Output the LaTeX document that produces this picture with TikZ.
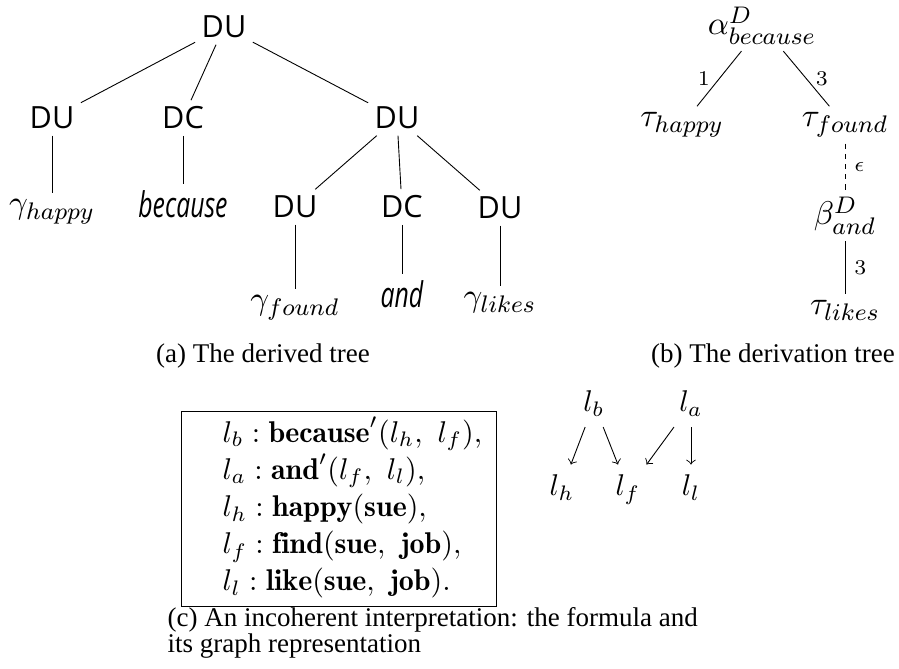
\documentclass[tikz,border=0pt]{standalone}
\usepackage{fontspec}
\usepackage{graphicx}
\newfontfamily\treesans{Open Sans}
\newfontfamily\capserif{Liberation Serif}
\begin{document}
\begin{tikzpicture}[x=0.3333pt,y=-0.3333pt,
  cat/.style={font=\treesans\fontsize{10.2}{12}\selectfont, inner sep=2pt},
  lex/.style={font=\fontsize{11}{13}\selectfont, inner sep=2pt, anchor=base},
  word/.style={font=\treesans\itshape\fontsize{11.8}{13}\selectfont, inner sep=2pt, anchor=base},
  der/.style={font=\fontsize{11}{13}\selectfont, inner sep=2pt, anchor=base},
  lbl/.style={font=\fontsize{7}{8}\selectfont, inner sep=3pt},
  gnode/.style={font=\fontsize{10}{12}\selectfont, anchor=base},
  captxt/.style={font=\capserif\fontsize{9}{10}\selectfont, anchor=base, inner sep=0pt},
  conn/.style={line width=0.3pt},
  dconn/.style={line width=0.3pt, dash pattern=on 1.7pt off 1.7pt}
]
\useasboundingbox (0,0) rectangle (899,669);

% (a) derived tree
\node[cat] (r)  at (224,27)  {DU};
\node[cat] (u1) at (52,118)  {DU};
\node[cat] (c1) at (183,118) {DC};
\node[cat] (u2) at (397,118) {DU};
\node[lex] (g1) at (52,214)  {$\gamma_{happy}$};
\node[word] (w1) at (183,218) {\scalebox{0.7}[1]{because}};
\node[cat] (u3) at (295,207) {DU};
\node[cat] (c2) at (402,207) {DC};
\node[cat] (u4) at (500,208) {DU};
\node[lex] (g2) at (295,310) {$\gamma_{found}$};
\node[word] (w2) at (402,308) {\scalebox{0.7}[1]{and}};
\node[lex] (g3) at (500,307) {$\gamma_{likes}$};
\draw[conn] (r) -- (u1);
\draw[conn] (r) -- (c1);
\draw[conn] (r) -- (u2);
\draw[conn] (u1) -- (g1);
\draw[conn] (c1) -- (w1);
\draw[conn] (u2) -- (u3);
\draw[conn] (u2) -- (c2);
\draw[conn] (u2) -- (u4);
\draw[conn] (u3) -- (g2);
\draw[conn] (c2) -- (w2);
\draw[conn] (u4) -- (g3);
\node[captxt] (capa) at (263,363) {(a) The derived tree};

% (b) derivation tree
\node[der] (al) at (762,35)  {$\alpha^{D}_{because}$};
\node[der] (th) at (682,127) {$\tau_{happy}$};
\node[der] (tf) at (845,127) {$\tau_{found}$};
\node[der] (be) at (845,225) {$\beta^{D}_{and}$};
\node[der] (tl) at (845,315) {$\tau_{likes}$};
\draw[conn] (al) -- node[lbl, left] {1} (th);
\draw[conn] (al) -- node[lbl, right] {3} (tf);
\draw[dconn] (tf) -- node[lbl, right] {$\epsilon$} (be);
\draw[conn] (be) -- node[lbl, right] {3} (tl);
\node[captxt] (capb) at (773,363) {(b) The derivation tree};

% (c) formula and graph
\node[draw, line width=0.4pt, anchor=north west, inner sep=0pt, minimum height=65pt,
      font=\fontsize{10}{12.4}\selectfont] (box) at (181,411)
  {\begin{tabular}{@{\hspace{13.67pt}}l@{\hspace{4.67pt}}}
   $l_b : \mathbf{because}'(l_h,\ l_f),$\\
   $l_a : \mathbf{and}'(l_f,\ l_l),$\\
   $l_h : \mathbf{happy}(\mathbf{sue}),$\\
   $l_f : \mathbf{find}(\mathbf{sue},\ \mathbf{job}),$\\
   $l_l : \mathbf{like}(\mathbf{sue},\ \mathbf{job}).$
   \end{tabular}};
\node[gnode] (lb) at (594,412) {$l_b$};
\node[gnode] (la) at (691,412) {$l_a$};
\node[gnode] (lh) at (562,496) {$l_h$};
\node[gnode] (lf) at (628,496) {$l_f$};
\node[gnode] (ll) at (691,496) {$l_l$};
\draw[conn,->] (lb) -- (lh);
\draw[conn,->] (lb) -- (lf);
\draw[conn,->] (la) -- (lf);
\draw[conn,->] (la) -- (ll);
\node[captxt, anchor=base west] (capc1) at (167,627) {(c) An incoherent interpretation: the formula and};
\node[captxt, anchor=base west] (capc2) at (167,653) {its graph representation};
\end{tikzpicture}
\end{document}
